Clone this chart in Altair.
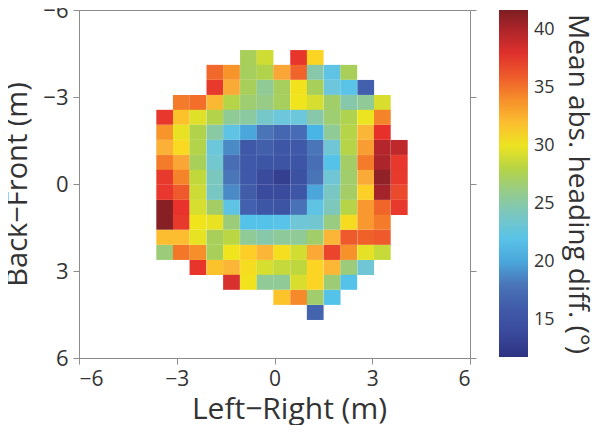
import altair as alt
import pandas as pd

# Cell centres (metres) of the binned map
x_centers = [-3.37, -2.86, -2.35, -1.83, -1.32, -0.80, -0.29, 0.22, 0.74, 1.25, 1.77, 2.28, 2.80, 3.31, 3.83]
y_centers = [-4.36, -3.85, -3.33, -2.81, -2.30, -1.78, -1.26, -0.74, -0.23, 0.29, 0.81, 1.32, 1.84, 2.36, 2.88, 3.39, 3.91, 4.43]

N = None
# Mean absolute heading difference (deg), one list per row (top to bottom)
row_00 = [N, N, N, N, N, 27.3, 29.0, N, 37.4, 31.0, N, N, N, N, N]
row_01 = [N, N, N, 35.4, 33.8, 27.2, 27.8, 33.0, 35.6, 25.0, 22.3, 27.3, N, N, N]
row_02 = [N, N, N, 37.2, 32.8, 27.3, 25.6, 27.2, 30.3, 27.3, 23.0, 22.0, 16.5, N, N]
row_03 = [N, 34.7, 35.2, 32.2, 28.0, 26.7, 26.2, 27.2, 30.2, 29.2, 26.9, 25.0, 25.6, 29.3, N]
row_04 = [37.3, 31.8, 29.5, 27.9, 25.6, 25.3, 23.7, 23.0, 23.0, 25.0, 26.7, 27.7, 30.0, 34.4, N]
row_05 = [33.8, 29.9, 27.8, 25.2, 22.3, 20.0, 18.0, 17.0, 17.4, 20.8, 25.6, 28.0, 32.4, 37.6, N]
row_06 = [32.6, 30.8, 27.9, 23.0, 19.0, 15.8, 16.4, 15.6, 15.9, 18.1, 23.3, 28.0, 33.4, 39.8, 39.3]
row_07 = [34.7, 33.0, 27.3, 23.5, 17.5, 15.8, 15.5, 15.3, 15.5, 17.6, 21.8, 27.0, 34.7, 40.1, 37.3]
row_08 = [37.2, 34.4, 28.5, 24.2, 18.1, 15.8, 14.0, 12.4, 15.0, 18.0, 23.3, 26.8, 32.8, 41.0, 37.2]
row_09 = [37.3, 36.0, 28.9, 24.0, 19.0, 16.2, 14.0, 14.0, 15.6, 20.0, 24.0, 27.0, 31.2, 40.3, 36.6]
row_10 = [41.3, 37.5, 29.2, 27.0, 22.3, 16.5, 15.6, 15.4, 17.8, 22.3, 24.3, 28.0, 33.6, 35.5, 37.2]
row_11 = [41.3, 37.2, 30.2, 29.9, 26.5, 21.8, 21.8, 22.0, 23.2, 23.4, 26.3, 30.6, 33.6, 34.7, N]
row_12 = [32.0, 32.0, 29.8, 27.3, 28.2, 25.6, 25.0, 25.5, 25.6, 26.9, 32.4, 36.0, 35.7, 36.0, N]
row_13 = [26.5, 34.9, 34.0, 27.3, 30.2, 31.3, 32.4, 30.5, 29.1, 32.9, 36.8, 33.9, 29.7, 28.7, N]
row_14 = [N, N, 37.4, 31.8, 32.4, 30.6, 29.2, 28.6, 28.4, 31.0, 32.3, 26.5, 23.3, N, N]
row_15 = [N, N, N, N, 38.3, 30.3, 25.6, 25.6, 29.3, 31.0, 26.6, 21.8, N, N, N]
row_16 = [N, N, N, N, N, N, N, 31.7, 34.2, 26.8, 21.8, N, N, N, N]
row_17 = [N, N, N, N, N, N, N, N, N, 16.8, N, N, N, N, N]

rows_all = [row_00, row_01, row_02, row_03, row_04, row_05, row_06, row_07, row_08,
            row_09, row_10, row_11, row_12, row_13, row_14, row_15, row_16, row_17]

axis_ticks = [-6, -3, 0, 3, 6]
legend_ticks = [15, 20, 25, 30, 35, 40]
legend_title = ["Mean abs. heading diff. (°)"]

# colour map (jet-like) stops
color_stops = [11.8, 12.4, 14.0, 15.5, 17.2, 18.0, 19.0, 20.0, 20.8, 21.8, 23.0, 25.0, 26.2,
               27.3, 28.0, 28.7, 29.7, 30.2, 31.0, 31.7, 32.4, 33.2, 33.8, 34.7, 35.6, 36.0,
               37.2, 37.6, 38.3, 39.8, 41.2, 41.7]
color_range = ["#2d3280", "#343f8f", "#3a4a9d", "#3d55a5", "#4668b2", "#4a74b8", "#4a8ac6",
               "#4aa6db", "#48b5e6", "#55c2ea", "#6cc6dc", "#86c8a9", "#98cb85", "#a8cf59",
               "#b5d447", "#c6da39", "#e5e126", "#f0e41d", "#fcd524", "#fcc42a", "#fbb537",
               "#f9a136", "#f7942a", "#f47b29", "#f0632a", "#ee5a2b", "#e8392d", "#e8302a",
               "#d7302e", "#b4262b", "#8a2126", "#7c1e22"]

records = []
for j, yc in enumerate(y_centers):
    for i, xc in enumerate(x_centers):
        v = rows_all[j][i]
        if v is not None:
            records.append({"x": xc, "y": yc, "v": v})
df = pd.DataFrame(records)

HALF_W = 0.257
HALF_H = 0.2585
FONT = "Open Sans"
TXT = "#333333"
FRAME = "#8c8c8c"

xscale = alt.Scale(domain=[-6, 6], nice=False, zero=False)
yscale = alt.Scale(domain=[-6, 6], reverse=True, nice=False, zero=False)
cscale = alt.Scale(domain=color_stops, range=color_range, interpolate="rgb")

base = alt.Chart(df).transform_calculate(
    x0=f"datum.x - {HALF_W}", x1=f"datum.x + {HALF_W}",
    y0=f"datum.y - {HALF_H}", y1=f"datum.y + {HALF_H}",
)

heat = base.mark_rect().encode(
    x=alt.X("x0:Q", scale=xscale,
            axis=alt.Axis(values=axis_ticks, title="Left−Right (m)", domain=False, grid=False,
                          tickSize=6, tickColor=FRAME, labelFontSize=21, labelColor=TXT,
                          labelFont=FONT, labelPadding=4, titleFont=FONT, titleFontSize=30,
                          titleFontWeight="normal", titleColor=TXT, titlePadding=5,
                          titleX=210)),
    x2="x1:Q",
    y=alt.Y("y0:Q", scale=yscale,
            axis=alt.Axis(values=axis_ticks, title="Back−Front (m)", domain=False, grid=False,
                          tickSize=6, tickColor=FRAME, labelFontSize=22, labelColor=TXT,
                          labelFont=FONT, labelPadding=5, titleFont=FONT, titleFontSize=29,
                          titleFontWeight="normal", titleColor=TXT, titlePadding=10)),
    y2="y1:Q",
    color=alt.Color("v:Q", scale=cscale,
                    legend=alt.Legend(type="gradient", title=None, orient="right",
                                      direction="vertical", gradientLength=347,
                                      gradientThickness=29, offset=22, padding=0,
                                      values=legend_ticks, labelFontSize=18, labelFont=FONT,
                                      labelColor=TXT, labelOffset=6, labelOverlap=False,
                                      gradientStrokeWidth=0)),
)

right = base.mark_point(opacity=0).encode(
    y=alt.Y("y:Q", scale=yscale,
            axis=alt.Axis(orient="right", values=axis_ticks, labels=False, title=None,
                          domain=False, grid=False, tickSize=6, tickColor=FRAME)),
)

cbar_title = alt.Chart(pd.DataFrame({"t": legend_title})).mark_text(
    angle=90, align="center", baseline="alphabetic", font=FONT, fontSize=28, color=TXT,
).encode(text="t:N", x=alt.value(490), y=alt.value(174))

chart = alt.layer(heat, right, cbar_title).resolve_axis(y="independent").properties(
    width=391, height=348, autosize="none",
    padding={"left": 71, "top": 2, "right": 122, "bottom": 67},
).configure_view(stroke=FRAME, strokeWidth=1)

chart.save("out.html", embed_options={"renderer": "svg", "actions": False})
